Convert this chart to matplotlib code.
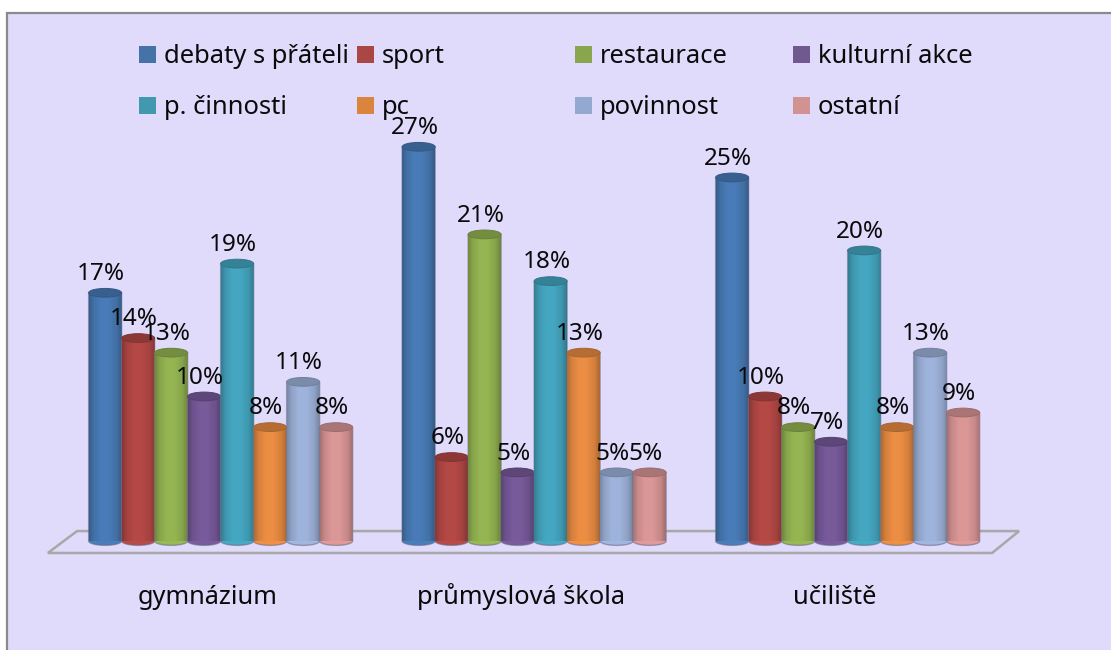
import numpy as np
import matplotlib
matplotlib.use("Agg")
import matplotlib.pyplot as plt
from matplotlib.colors import to_rgb
from matplotlib.patches import Ellipse, Polygon, Rectangle

plt.rcParams['font.family'] = ['Noto Sans', 'DejaVu Sans']

schools = ["gymnázium", "průmyslová škola", "učiliště"]
activities = ["debaty s přáteli", "sport", "restaurace", "kulturní akce",
              "p. činnosti", "pc", "povinnost", "ostatní"]
colors = ["#4A7EBB", "#B84A47", "#98B954", "#7A5C9E",
          "#46AAC5", "#F09045", "#A2B7E0", "#E09A9A"]
legend_colors = ["#4572A7", "#AA4643", "#89A54E", "#71588F",
                 "#4198AF", "#DB843D", "#93A9CF", "#D19392"]

gymnazium = [17.0, 13.9, 12.9, 9.9, 19.0, 7.8, 10.9, 7.8]
prumyslovka = [27.0, 5.75, 21.0, 4.7, 17.8, 12.9, 4.7, 4.7]
uciliste = [24.9, 9.9, 7.8, 6.8, 19.9, 7.8, 12.9, 8.8]
values = [gymnazium, prumyslovka, uciliste]

W, H = 1111, 650
fig = plt.figure(figsize=(W / 100, H / 100), dpi=100, facecolor="white")

# background panel with grey border, runs off right and bottom
fig.patches.append(Rectangle((7 / W, -0.02), 1.02, 1.02 - 13 / H, transform=fig.transFigure,
                             facecolor="#E0DAFB", edgecolor="#8A8A8A", linewidth=1.6, zorder=-1))

# 0 % sits at pixel row 541, 14.6 px per percent, 313.5 px per group
ax_top = 100
ax = fig.add_axes([0, (H - 541) / H, 1, (541 - ax_top) / H])
ax.patch.set_alpha(0)
for s in ax.spines.values():
    s.set_visible(False)
ax.set_yticks([])

# floor of the 3D chart
floor = Polygon([(-0.549, -0.82), (-0.456, 0.68), (2.549, 0.68), (2.463, -0.82)], closed=True,
                fill=False, edgecolor="#A8A8A8", linewidth=1.8, clip_on=False, zorder=1)
ax.add_patch(floor)

bar_w = 33 / 313.5
cap = 0.30  # half height of the cylinder ellipse, in percent
profile_x = [0, 0.12, 0.35, 0.6, 0.85, 1]
profile_f = [0.74, 0.88, 0.98, 0.98, 0.88, 0.72]

for g, group in enumerate(values):
    for i, v in enumerate(group):
        x = g + (i - 3.5) * bar_w + 0.002
        base = np.array(to_rgb(colors[i]))
        t = np.linspace(0, 1, 40)
        f = np.interp(t, profile_x, profile_f)
        grad = np.clip(base[None, None, :] * f[None, :, None], 0, 1)

        th = np.linspace(np.pi, 2 * np.pi, 30)
        outline = np.column_stack([x + bar_w / 2 * np.cos(th), cap * np.sin(th)])
        outline = np.vstack([outline, [x + bar_w / 2, v], [x - bar_w / 2, v]])
        body = Polygon(outline, closed=True, facecolor=colors[i], edgecolor=(0.4, 0.4, 0.5, 0.55),
                       linewidth=1.0, clip_on=False, zorder=2 + i * 0.01)
        ax.add_patch(body)
        im = ax.imshow(grad, extent=(x - bar_w / 2, x + bar_w / 2, -cap, v), aspect="auto",
                       zorder=2 + i * 0.01 + 0.001, interpolation="bilinear")
        im.set_clip_path(Polygon(outline, closed=True, transform=ax.transData))

        top = Ellipse((x, v), bar_w, cap * 2, facecolor=base * 0.76, edgecolor=base * 0.7,
                      linewidth=0.7, zorder=2 + i * 0.01 + 0.002, clip_on=False)
        ax.add_patch(top)

        ax.annotate(f"{v:.0f}%", (x, v + cap), xytext=(-3, 6), textcoords="offset points",
                    ha="center", va="baseline", fontsize=17.5, color="#0A0A0A", zorder=5,
                    annotation_clip=False)

ax.set_xlim(-220 / 313.5, (W - 220) / 313.5)
ax.set_ylim(0, (541 - ax_top) / 14.6)
ax.set_xticks(np.arange(3) - 0.04, schools, fontsize=18.3, color="#0A0A0A", va="baseline")
ax.tick_params(axis="x", length=0, pad=45)

# legend, four equal columns and two rows
for k, name in enumerate(activities):
    col, row = k % 4, k // 4
    lx = 139 + col * 218
    ly = 46 + row * 51
    fig.patches.append(Rectangle((lx / W, 1 - (ly + 17) / H), 17 / W, 17 / H,
                                 transform=fig.transFigure, facecolor=legend_colors[k],
                                 edgecolor="none", zorder=-0.5))
    fig.text((lx + 25) / W, 1 - (ly + 17) / H, name, fontsize=18.4, color="#0A0A0A",
             ha="left", va="baseline")

fig.savefig("out.png", dpi=100, facecolor="white")
